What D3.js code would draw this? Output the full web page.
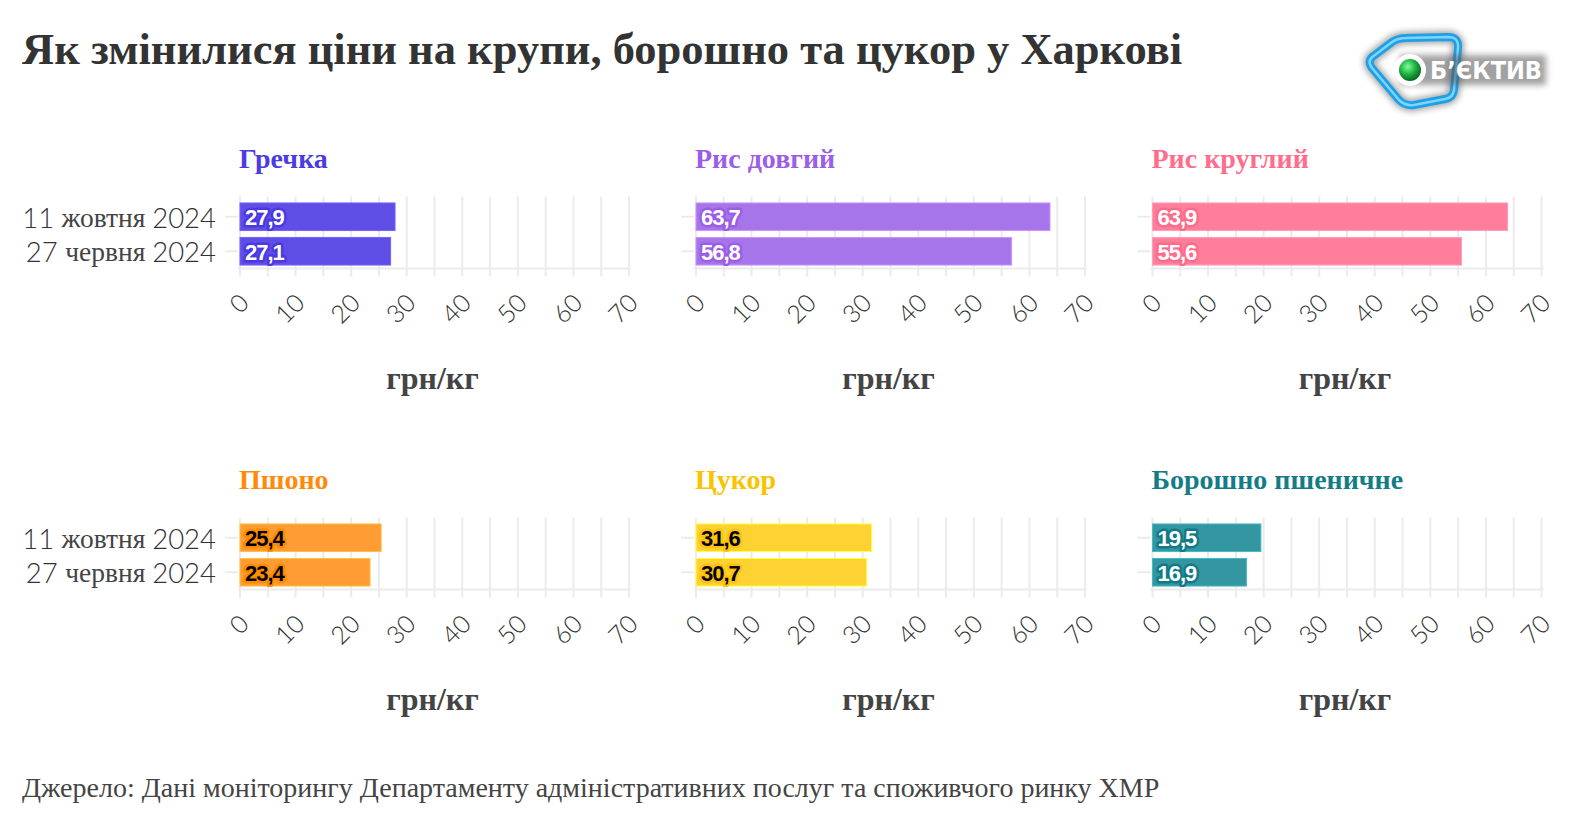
<!DOCTYPE html>
<html><head><meta charset="utf-8">
<script src="https://cdn.jsdelivr.net/npm/d3@7"></script>
<style>
html,body{margin:0;padding:0;background:#fff;}
svg{display:block;}
</style></head>
<body>
<svg id="chart" width="1588" height="826"></svg>
<script>
// ---- data ----
const panelNames = ["Гречка", "Рис довгий", "Рис круглий", "Пшоно", "Цукор", "Борошно пшеничне"];
const dates = ["11 жовтня 2024", "27 червня 2024"];
const octoberValues = [27.9, 63.7, 63.9, 25.4, 31.6, 19.5];
const juneValues = [27.1, 56.8, 55.6, 23.4, 30.7, 16.9];
const xTickValues = [0, 10, 20, 30, 40, 50, 60, 70];
const unitLabel = "грн/кг";
const titleText = "Як змінилися ціни на крупи, борошно та цукор у Харкові";
const sourceText = "Джерело: Дані моніторингу Департаменту адміністративних послуг та споживчого ринку ХМР";

// ---- styles ----
const titleColors = ["#4b3be2", "#9b5ee6", "#ff6d8c", "#ff8a0a", "#f9c300", "#147c87"];
const barColors   = ["#5f4ee6", "#a775ea", "#ff7f9b", "#ff9c33", "#ffd233", "#3396a1"];
const haloColors  = ["#4a38e0", "#9a5de5", "#ff6b8b", "#ff8c00", "#ffc20e", "#137a85"];
const labelColors = ["#fff", "#fff", "#fff", "#000", "#000", "#fff"];

const svg = d3.select("#chart");
const colX = [240, 696, 1152.5];
const rowY = [199.5, 520.5];
const plotW = 389, plotH = 69;
const serif = "'Liberation Serif','Times New Roman',serif";
const sans = "Lato,'Open Sans',sans-serif";
const boldSans = "'Liberation Sans',Arial,sans-serif";

// title
svg.append("text").attr("x", 22).attr("y", 64)
  .attr("font-family", serif).attr("font-weight", "bold").attr("font-size", 44.5)
  .attr("fill", "#333").text(titleText);

// source
svg.append("text").attr("x", 22).attr("y", 797)
  .attr("font-family", serif).attr("font-size", 28)
  .attr("fill", "#444").text(sourceText);

const x = d3.scaleLinear().domain([0, 70]).range([0, plotW]);
const y = d3.scaleBand().domain(dates).range([0, plotH]).paddingInner(0.2).paddingOuter(0.1);

panelNames.forEach((name, i) => {
  const col = i % 3, row = Math.floor(i / 3);
  const g = svg.append("g").attr("transform", `translate(${colX[col]},${rowY[row]})`);
  const vals = [octoberValues[i], juneValues[i]];

  // panel title
  g.append("text").attr("x", -1).attr("y", -31.5)
    .attr("font-family", serif).attr("font-weight", "bold").attr("font-size", 28)
    .attr("fill", titleColors[i]).text(name);

  // gridlines every 5
  g.append("g").selectAll("line").data(x.ticks(14)).join("line")
    .attr("x1", d => x(d)).attr("x2", d => x(d))
    .attr("y1", -3).attr("y2", plotH + 8)
    .attr("stroke", "#ebebeb").attr("stroke-width", 2);
  g.append("line").attr("x1", -2).attr("x2", plotW + 2).attr("y1", plotH).attr("y2", plotH)
    .attr("stroke", "#ebebeb").attr("stroke-width", 2);

  // x axis labels
  const xa = g.append("g").attr("transform", `translate(0,${plotH})`)
    .call(d3.axisBottom(x).tickValues(xTickValues).tickSize(0).tickPadding(0));
  xa.select(".domain").remove();
  xa.selectAll("text")
    .attr("font-family", sans).attr("font-weight", 300).attr("font-size", 25).attr("fill", "#333")
    .attr("text-anchor", "end").attr("dy", null).attr("y", 0)
    .attr("dominant-baseline", "central")
    .attr("transform", "translate(3,29) rotate(-45)");

  // unit label
  g.append("text").attr("x", plotW / 2 - 2).attr("y", plotH + 120)
    .attr("text-anchor", "middle")
    .attr("font-family", serif).attr("font-weight", "bold").attr("font-size", 32)
    .attr("fill", "#444").text(unitLabel);

  // y ticks
  g.append("g").selectAll("line").data(dates).join("line")
    .attr("x1", -15).attr("x2", -2)
    .attr("y1", d => y(d) + y.bandwidth() / 2).attr("y2", d => y(d) + y.bandwidth() / 2)
    .attr("stroke", "#ebebeb").attr("stroke-width", 2);

  // y labels only for first column
  if (col === 0) {
    const yl = g.append("g").selectAll("text").data(dates).join("text")
      .attr("x", -24).attr("y", d => y(d) + y.bandwidth() / 2)
      .attr("dominant-baseline", "central").attr("text-anchor", "end")
      .attr("font-size", 27.5).attr("fill", "#333");
    yl.each(function(d) {
      const parts = d.split(" ");
      const t = d3.select(this);
      t.append("tspan").attr("font-family", sans).attr("font-weight", 300).text(parts[0] + " ");
      t.append("tspan").attr("font-family", serif).attr("fill", "#444").text(parts[1] + " ");
      t.append("tspan").attr("font-family", sans).attr("font-weight", 300).text(parts[2]);
    });
  }

  // bars
  g.append("g").selectAll("rect").data(vals).join("rect")
    .attr("x", 0).attr("y", (d, j) => y(dates[j]))
    .attr("width", d => x(d)).attr("height", y.bandwidth())
    .attr("fill", barColors[i])
    .attr("stroke", d3.color(barColors[i]).brighter(0.6)).attr("stroke-width", 1);

  // bar labels
  const fmt = v => d3.format(".1f")(v).replace(".", ",");
  const lab = g.append("g").selectAll("g").data(vals).join("g")
    .attr("transform", (d, j) => `translate(5,${y(dates[j]) + y.bandwidth() / 2 + 1})`);
  lab.append("text").text(fmt)
    .attr("dominant-baseline", "central")
    .attr("font-family", boldSans).attr("font-weight", "bold").attr("font-size", 22)
    .attr("letter-spacing", -1)
    .attr("fill", "none").attr("stroke", haloColors[i]).attr("stroke-width", 5)
    .attr("stroke-linejoin", "round");
  lab.append("text").text(fmt)
    .attr("dominant-baseline", "central")
    .attr("font-family", boldSans).attr("font-weight", "bold").attr("font-size", 22)
    .attr("letter-spacing", -1)
    .attr("fill", labelColors[i]);
});

// logo
const logo = svg.append("g");
const defs = svg.append("defs");
const grad = defs.append("radialGradient").attr("id", "ball").attr("cx", "40%").attr("cy", "35%").attr("r", "65%");
grad.append("stop").attr("offset", "0%").attr("stop-color", "#7dff9a");
grad.append("stop").attr("offset", "60%").attr("stop-color", "#19a83a");
grad.append("stop").attr("offset", "100%").attr("stop-color", "#0a6a22");
const blur = defs.append("filter").attr("id", "shadow").attr("x", "-20%").attr("y", "-20%").attr("width", "140%").attr("height", "140%");
blur.append("feGaussianBlur").attr("stdDeviation", 3);
const quad = "M1372,68 Q1366,60 1375,55 L1392,42 Q1398,38 1406,38 L1448,37 Q1459,37 1458,48 L1454,90 Q1453,98 1445,99 L1414,105 Q1405,106 1399,100 Z";
logo.append("path").attr("d", quad).attr("fill", "none").attr("stroke", "#666").attr("stroke-width", 12).attr("filter", "url(#shadow)").attr("opacity", 0.6);
logo.append("path").attr("d", quad).attr("fill", "none").attr("stroke", "#1ea0e8").attr("stroke-width", 8);
logo.append("path").attr("d", quad).attr("fill", "none").attr("stroke", "#7fd4ff").attr("stroke-width", 2.5);
logo.append("rect").attr("x", 1400).attr("y", 55).attr("width", 146).attr("height", 30).attr("fill", "#555").attr("filter", "url(#shadow)").attr("opacity", 0.55);
logo.append("circle").attr("cx", 1410).attr("cy", 70).attr("r", 16).attr("fill", "#fff");
logo.append("circle").attr("cx", 1410).attr("cy", 70).attr("r", 11).attr("fill", "url(#ball)");
logo.append("text").attr("x", 1430).attr("y", 79).attr("font-family", "'DejaVu Sans',sans-serif")
  .attr("font-weight", "bold").attr("font-size", 24).attr("fill", "#fff")
  .attr("textLength", 112).attr("lengthAdjust", "spacingAndGlyphs").text("Б’ЄКТИВ");
</script>
</body></html>
